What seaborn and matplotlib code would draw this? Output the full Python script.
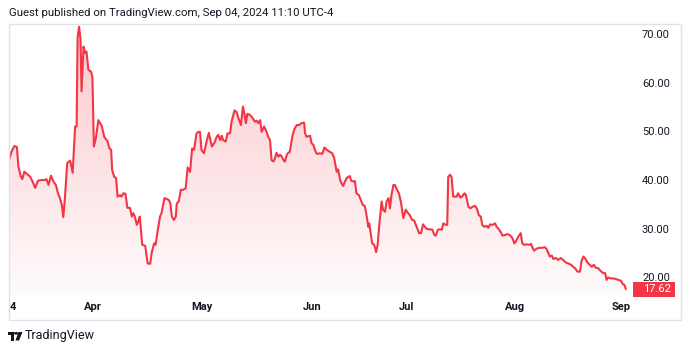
import numpy as np
import matplotlib
matplotlib.use("Agg")
import matplotlib.pyplot as plt
from matplotlib.patches import Rectangle, Circle, Polygon
from matplotlib.transforms import blended_transform_factory
import seaborn as sns

# trading sessions since the first bar (Mar 2024) and closing price
session = [0.0, 0.5, 1.1, 1.6, 1.9, 2.4, 2.7, 3.1, 3.6, 4.3, 4.9, 5.3, 5.6, 5.9, 6.6, 7.3, 7.6, 8.0,
           8.5, 9.0, 9.5, 9.9, 10.3, 10.7, 11.0, 11.3, 11.8, 12.4, 12.9, 13.4, 13.7, 13.9, 14.2, 14.5,
           14.7, 15.1, 15.4, 15.7, 16.1, 16.6, 16.9, 17.2, 17.6, 18.1, 18.8, 19.3, 20.0, 20.3, 20.7,
           20.9, 21.3, 21.7, 22.0, 22.5, 22.8, 23.2, 23.6, 24.0, 24.5, 24.9, 25.2, 25.5, 25.9, 26.2,
           26.5, 27.0, 27.6, 28.1, 28.6, 28.9, 29.4, 29.7, 30.1, 30.6, 30.9, 31.5, 32.0, 32.4, 32.7,
           33.0, 33.4, 33.8, 34.0, 34.4, 34.8, 35.3, 35.8, 36.2, 36.7, 37.1, 37.5, 38.0, 38.4, 38.7,
           39.0, 39.5, 40.1, 40.5, 41.1, 41.6, 42.1, 42.4, 42.8, 43.1, 43.4, 43.9, 44.3, 44.8, 45.1,
           45.7, 46.1, 46.5, 47.0, 47.4, 47.7, 48.0, 48.3, 48.8, 49.4, 49.8, 50.2, 50.5, 50.9, 51.2,
           51.7, 52.2, 52.5, 52.9, 53.2, 53.6, 53.9, 54.2, 54.6, 54.9, 55.3, 55.6, 55.9, 56.3, 56.6,
           56.9, 57.4, 57.8, 58.3, 58.8, 59.3, 59.8, 60.0, 60.3, 61.0, 61.3, 61.7, 62.0, 62.3, 62.5,
           63.0, 63.5, 63.9, 64.4, 65.0, 65.5, 65.9, 66.4, 66.7, 67.1, 67.4, 67.7, 68.1, 68.4, 68.8,
           69.1, 69.3, 69.8, 70.1, 70.4, 70.9, 71.3, 71.7, 72.1, 72.5, 72.8, 73.0, 73.3, 73.6, 74.0,
           74.4, 74.7, 75.0, 75.5, 75.8, 76.2, 76.5, 76.9, 77.2, 77.5, 77.9, 78.2, 78.6, 79.0, 79.4,
           79.9, 80.4, 80.8, 81.2, 81.7, 82.1, 82.6, 83.1, 83.5, 83.9, 84.4, 84.8, 85.3, 85.8, 86.2,
           86.5, 86.9, 87.3, 87.7, 88.0, 88.5, 88.8, 89.0, 89.4, 89.7, 90.0, 90.7, 91.0, 91.5, 91.8,
           92.3, 92.6, 93.1, 93.5, 93.9, 94.4, 94.8, 95.2, 95.6, 95.9, 96.3, 96.8, 97.1, 97.5, 98.0,
           98.5, 98.8, 99.1, 99.6, 100.0, 100.5, 101.0, 101.5, 102.0, 102.4, 102.7, 103.2, 103.7,
           104.0, 104.4, 104.9, 105.4, 105.8, 106.0, 106.4, 106.6, 107.1, 107.6, 108.1, 108.6, 108.9,
           109.3, 109.6, 110.0, 110.3, 110.8, 111.3, 111.8, 112.3, 112.8, 113.3, 113.9, 114.3, 114.7,
           115.2, 115.7, 116.0, 116.4, 116.7, 117.2, 117.6, 118.1, 118.5, 118.9, 119.4, 119.9, 120.4,
           120.8, 121.1, 121.4, 122.0, 122.5, 122.9, 123.5, 124.0, 124.4, 124.7, 125.0]
price = [44.1, 45.8, 47.0, 46.8, 42.8, 40.7, 40.2, 41.7, 41.3, 40.7, 39.4, 38.4, 39.2, 39.9, 40.0,
         40.0, 40.2, 39.0, 40.9, 39.7, 39.0, 37.4, 36.3, 34.9, 32.4, 35.9, 43.5, 44.0, 41.5, 51.0,
         51.0, 69.4, 71.5, 68.8, 58.2, 67.4, 66.1, 66.4, 62.6, 62.3, 61.2, 46.9, 48.6, 52.3, 51.1,
         48.9, 47.9, 46.6, 46.2, 42.1, 40.7, 40.4, 36.6, 36.9, 36.6, 37.3, 37.2, 34.3, 34.3, 32.5,
         33.2, 32.5, 30.8, 31.5, 32.5, 26.7, 26.5, 22.9, 22.8, 25.0, 27.0, 26.7, 29.4, 32.5, 33.2,
         36.3, 36.1, 35.9, 35.2, 32.5, 31.8, 32.5, 35.2, 35.6, 38.0, 38.0, 38.3, 42.6, 41.7, 46.5,
         46.2, 49.6, 49.9, 49.9, 46.2, 45.5, 48.2, 49.7, 46.9, 47.6, 48.9, 49.3, 48.2, 49.1, 48.2,
         47.9, 49.6, 49.6, 52.0, 54.3, 54.0, 52.7, 51.3, 55.1, 53.7, 51.7, 53.6, 53.4, 52.7, 52.0,
         52.2, 51.7, 52.3, 49.9, 51.0, 49.9, 48.9, 48.2, 44.1, 43.8, 44.5, 45.6, 44.8, 45.2, 44.8,
         44.1, 43.8, 45.2, 45.6, 45.8, 48.9, 50.4, 51.3, 51.3, 51.7, 51.8, 49.6, 48.9, 49.1, 47.6,
         47.2, 46.2, 45.5, 45.4, 45.5, 45.4, 46.7, 46.2, 45.8, 45.5, 44.5, 41.7, 42.2, 40.0, 39.3,
         38.8, 39.7, 40.4, 40.7, 40.8, 39.9, 39.7, 39.8, 37.3, 36.9, 35.9, 34.9, 34.7, 32.5, 30.4,
         31.1, 29.1, 27.0, 26.7, 25.2, 26.7, 30.4, 35.6, 33.9, 33.5, 35.6, 36.3, 34.2, 36.9, 39.0,
         39.0, 38.1, 37.3, 35.6, 32.2, 33.9, 33.3, 32.8, 31.8, 31.7, 30.4, 29.1, 29.1, 30.9, 30.2,
         29.9, 29.9, 29.8, 28.7, 28.6, 29.8, 29.9, 29.8, 31.1, 30.8, 30.8, 40.7, 41.1, 40.5, 36.6,
         36.6, 37.3, 36.4, 36.6, 37.3, 36.9, 34.5, 34.2, 34.5, 34.7, 34.2, 32.8, 32.5, 30.8, 30.4,
         30.6, 30.2, 30.9, 30.8, 31.1, 30.4, 30.1, 29.4, 28.6, 28.7, 28.9, 28.7, 28.1, 27.0, 27.4,
         28.4, 29.1, 27.0, 26.7, 26.8, 26.7, 26.9, 26.3, 25.5, 25.7, 26.0, 26.1, 26.1, 26.2, 25.9,
         25.0, 24.3, 24.5, 23.8, 24.0, 23.6, 24.0, 23.6, 23.1, 22.9, 22.6, 22.2, 21.9, 21.2, 21.2,
         23.3, 24.3, 24.0, 23.1, 22.7, 22.2, 22.6, 22.0, 21.9, 21.3, 20.9, 20.9, 19.5, 20.0, 19.8,
         19.8, 19.7, 19.5, 19.3, 18.6, 18.5, 17.62]

month_pos = [0.2, 17, 39, 61.5, 80.5, 102.5, 124]
month_labels = ["4", "Apr", "May", "Jun", "Jul", "Aug", "Sep"]
price_ticks = [20, 30, 40, 50, 60, 70]

RED = "#f23645"
TXT = "#131722"
W, H = 690, 352

sns.set_theme(style="white")
plt.rcParams["font.family"] = ["Roboto", "DejaVu Sans"]

fig = plt.figure(figsize=(W / 100, H / 100), dpi=100)
fig.patch.set_facecolor("white")

def fx(px):
    return px / W

def fy(py):
    return 1 - py / H

# chart frame
fig.add_artist(Rectangle((fx(9), fy(320)), fx(672), 296 / H, transform=fig.transFigure,
                         fill=False, edgecolor="#e0e3eb", lw=1))

ax_w = 626
ax = fig.add_axes([fx(9), fy(295), fx(ax_w), 271 / H])
ax.set_facecolor("none")
xmax = 126.85
ymin, ymax = 16.4, 72.05

# gradient area under the line
fill = ax.fill_between(session, price, ymin, color="none", lw=0)
grad = np.zeros((256, 1, 4))
grad[..., 0], grad[..., 1], grad[..., 2] = 242 / 255, 54 / 255, 69 / 255
grad[..., 3] = np.linspace(0.28, 0.02, 256)[:, None]
im = ax.imshow(grad, extent=[0, xmax, ymin, ymax], aspect="auto", origin="upper", zorder=1)
im.set_clip_path(fill.get_paths()[0], transform=ax.transData)

sns.lineplot(x=session, y=price, ax=ax, color=RED, lw=1.5, zorder=3, sort=False)

ax.set_xlim(0, xmax)
ax.set_ylim(ymin, ymax)
for s in ax.spines.values():
    s.set_visible(False)
ax.grid(False)

ax.set_xticks(month_pos, month_labels)
ax.tick_params(axis="x", length=0, pad=5, labelsize=8, labelcolor=TXT)
for t in ax.get_xticklabels():
    t.set_fontweight("semibold")
ax.get_xticklabels()[0].set_horizontalalignment("left")

ax.yaxis.tick_right()
ax.set_yticks(price_ticks, [f"{v:.2f}" for v in price_ticks])
ax.tick_params(axis="y", length=0, pad=5, labelsize=8, labelcolor=TXT)
ax.set_xlabel("")
ax.set_ylabel("")

# last price tag
last = price[-1]
tr = blended_transform_factory(ax.transAxes, ax.transData)
px_per_unit = 271 / (ymax - ymin)
tag_h = 15 / px_per_unit
ax.add_patch(Rectangle((1 - 2 / ax_w, last - tag_h / 2), 42 / ax_w, tag_h, transform=tr,
                       color=RED, lw=0, clip_on=False, zorder=5))
ax.text(1 + 8 / ax_w, last, f"{last:.2f}", transform=tr, ha="left", va="center",
        fontsize=8, color="white", zorder=6, clip_on=False)

# header
fig.text(fx(9), fy(13), "Guest published on TradingView.com, Sep 04, 2024 11:10 UTC-4",
         ha="left", va="center", fontsize=8.2, color=TXT)

# footer logo
logo_c = TXT
fig.add_artist(Rectangle((fx(8), fy(334.5)), fx(6), 2.5 / H, transform=fig.transFigure,
                         color=logo_c, lw=0))
fig.add_artist(Rectangle((fx(11), fy(340.5)), fx(3), 6 / H, transform=fig.transFigure,
                         color=logo_c, lw=0))
fig.add_artist(Circle((fx(16), fy(333.3)), 1.3 / W, transform=fig.transFigure, color=logo_c))
fig.add_artist(Polygon([(fx(18.5), fy(332)), (fx(22.5), fy(332)), (fx(19), fy(340.5)),
                        (fx(15.5), fy(340.5))], closed=True, transform=fig.transFigure,
                       color=logo_c, lw=0))
fig.text(fx(25), fy(336), "TradingView", ha="left", va="center", fontsize=9, color=TXT)

fig.savefig("out.png", dpi=100, facecolor="white")
